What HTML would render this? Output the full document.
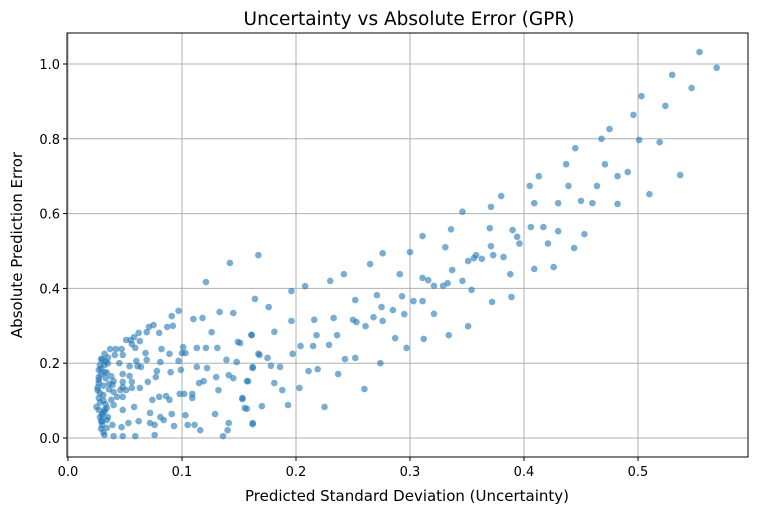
<!DOCTYPE html>
<html><head><meta charset="utf-8"><style>
body{margin:0;background:#fff;font-family:"Liberation Sans","DejaVu Sans",sans-serif}
svg text{font-family:"DejaVu Sans","Liberation Sans",sans-serif}
</style></head><body>
<svg id="chart" width="757" height="513" xmlns="http://www.w3.org/2000/svg">
<rect width="757" height="513" fill="#fff"/>
<g id="grid"></g><g id="pts"></g><g id="axes"></g>
<text x="409" y="25" font-size="18.5" text-anchor="middle">Uncertainty vs Absolute Error (GPR)</text>
<text x="407" y="501" font-size="15" text-anchor="middle">Predicted Standard Deviation (Uncertainty)</text>
<text transform="translate(22,245) rotate(-90)" font-size="15" text-anchor="middle">Absolute Prediction Error</text>
</svg>
<script>
const xTicks=[0.0,0.1,0.2,0.3,0.4,0.5];
const yTicks=[0.0,0.2,0.4,0.6,0.8,1.0];
const xs=[0.554,0.569,0.530,0.547,0.503,0.524,0.496,0.475,0.468,0.501,0.519,0.445,0.437,0.471,0.413,0.482,0.491,0.537,0.405,0.439,0.464,0.51,0.409,0.43,0.45,0.46,0.482,0.38,0.371,0.346,0.336,0.311,0.37,0.39,0.394,0.396,0.406,0.417,0.43,0.453,0.421,0.444,0.331,0.371,0.373,0.382,0.358,0.356,0.363,0.351,0.337,0.311,0.316,0.321,0.329,0.333,0.346,0.354,0.388,0.409,0.426,0.311,0.321,0.372,0.389,
0.167,0.196,0.208,0.23,0.242,0.265,0.276,0.291,0.3,0.164,0.176,0.196,0.161,0.181,0.151,0.168,0.175,0.197,0.162,0.178,0.186,0.158,0.181,0.188,0.153,0.157,0.17,0.193,0.162,0.203,0.211,0.219,0.225,0.237,0.204,0.215,0.218,0.229,0.236,0.216,0.233,0.243,0.252,0.26,0.274,0.252,0.25,0.253,0.261,0.268,0.271,0.275,0.276,0.285,0.293,0.295,0.287,0.297,0.303,0.312,0.334,0.351,0.121,0.142,
0.091,0.097,0.11,0.118,0.133,0.145,0.126,0.149,0.161,0.167,0.075,0.087,0.092,0.071,0.069,0.08,0.062,0.058,0.063,0.055,0.051,0.056,0.101,0.1,0.103,0.121,0.131,0.059,0.037,0.042,0.047,0.048,0.041,0.032,0.068,0.089,0.082,0.139,0.148,0.06,0.069,0.081,0.097,0.029,0.028,0.045,0.122,0.113,0.13,0.162,0.064,0.054,0.061,0.078,0.09,0.099,0.048,0.054,0.048,0.04,0.032,0.027,0.027,0.027,0.026,0.027,0.025,0.032,0.034,0.035,0.034,0.034,0.032,0.04,0.048,0.059,0.076,0.136,0.039,0.047,0.053,0.062,0.072,0.076,0.084,0.093,0.111,0.116,0.141,0.162,0.155,0.129,0.103,0.091,0.081,0.072,0.058,0.048,0.04,0.038,0.043,0.048,0.046,0.04,0.039,0.051,0.056,0.056,0.063,0.07,0.077,0.048,0.074,0.08,0.086,0.089,0.098,0.102,0.109,0.109,0.115,0.119,0.132,0.141,0.145,0.157,0.153,0.113,0.105,0.14,0.03,0.028,
0.029,0.031,0.033,0.030,0.028,0.035,0.031,0.029,0.033,0.036,0.030,0.032,
0.027,0.029,0.031,0.028,0.030,0.026,0.032,0.034,0.029,0.031,0.036,0.038,0.033,0.027,0.030,0.035];
const ys=[1.032,0.99,0.971,0.936,0.914,0.888,0.864,0.826,0.80,0.797,0.791,0.775,0.732,0.732,0.70,0.70,0.711,0.703,0.674,0.674,0.674,0.652,0.628,0.628,0.634,0.628,0.626,0.647,0.618,0.605,0.558,0.54,0.561,0.556,0.538,0.52,0.564,0.564,0.553,0.545,0.52,0.508,0.51,0.513,0.489,0.484,0.489,0.481,0.479,0.473,0.449,0.428,0.422,0.407,0.407,0.414,0.42,0.396,0.438,0.452,0.457,0.366,0.332,0.364,0.377,
0.489,0.393,0.406,0.42,0.438,0.465,0.494,0.438,0.497,0.372,0.35,0.313,0.275,0.284,0.254,0.222,0.214,0.225,0.187,0.193,0.19,0.152,0.147,0.128,0.107,0.078,0.085,0.088,0.037,0.134,0.179,0.184,0.083,0.171,0.246,0.246,0.275,0.249,0.275,0.316,0.321,0.211,0.214,0.131,0.2,0.369,0.316,0.31,0.299,0.323,0.382,0.35,0.313,0.342,0.379,0.331,0.267,0.241,0.366,0.265,0.275,0.299,0.417,0.468,
0.326,0.34,0.318,0.321,0.337,0.334,0.283,0.257,0.276,0.225,0.302,0.297,0.3,0.297,0.283,0.281,0.281,0.27,0.259,0.262,0.262,0.251,0.243,0.227,0.227,0.241,0.241,0.241,0.238,0.238,0.238,0.222,0.222,0.225,0.227,0.225,0.238,0.209,0.203,0.206,0.209,0.203,0.206,0.211,0.195,0.2,0.187,0.19,0.163,0.19,0.19,0.192,0.192,0.179,0.176,0.182,0.171,0.166,0.15,0.152,0.176,0.182,0.163,0.147,0.128,0.107,0.083,0.075,0.08,0.056,0.048,0.027,0.008,0.005,0.005,0.005,0.008,0.005,0.035,0.029,0.04,0.045,0.04,0.035,0.048,0.032,0.035,0.021,0.04,0.04,0.08,0.064,0.061,0.064,0.056,0.067,0.083,0.075,0.088,0.102,0.11,0.11,0.128,0.123,0.142,0.128,0.15,0.134,0.134,0.15,0.163,0.136,0.102,0.11,0.112,0.102,0.118,0.118,0.118,0.107,0.147,0.152,0.128,0.168,0.16,0.152,0.104,0.241,0.035,0.021,0.035,0.056,
0.17,0.14,0.09,0.06,0.12,0.2,0.1,0.045,0.16,0.13,0.21,0.07,
0.155,0.185,0.115,0.095,0.065,0.135,0.195,0.175,0.025,0.015,0.145,0.165,0.205,0.075,0.045,0.215];
const L=67,R=748,T=33,B=457;
const X=v=>68+v*1140, Y=v=>438-v*374;
const NS='http://www.w3.org/2000/svg';
const mk=(t,a,p)=>{const e=document.createElementNS(NS,t);for(const k in a)e.setAttribute(k,a[k]);p.appendChild(e);return e;};
const grid=document.getElementById('grid'),axes=document.getElementById('axes'),pts=document.getElementById('pts');
xTicks.forEach(v=>{
 const g=mk('line',{x1:X(v),x2:X(v),y1:T,y2:B,stroke:'#b0b0b0','stroke-width':1},grid);
 
 
 mk('line',{x1:X(v),x2:X(v),y1:B,y2:B+4,stroke:'#000'},axes);
 const t=mk('text',{x:X(v),y:B+19,'font-size':13,'text-anchor':'middle'},axes);t.textContent=v.toFixed(1);
 
 
});
yTicks.forEach(v=>{
 const g=mk('line',{x1:L,x2:R,y1:Y(v),y2:Y(v),stroke:'#b0b0b0','stroke-width':1},grid);
 
 
 mk('line',{x1:L-4,x2:L,y1:Y(v),y2:Y(v),stroke:'#000'},axes);
 const t=mk('text',{x:L-7,y:Y(v)+5,'font-size':13,'text-anchor':'end'},axes);t.textContent=v.toFixed(1);
 
 
});
const fr=mk('rect',{x:L,y:T,width:R-L,height:B-T,fill:'none',stroke:'#000','stroke-width':1},axes);


xs.forEach((v,i)=>{
 const c=mk('circle',{cx:X(v),cy:Y(ys[i]),r:3.3,fill:'#1f77b4','fill-opacity':0.6},pts);
 
 
});
</script>
</body></html>
